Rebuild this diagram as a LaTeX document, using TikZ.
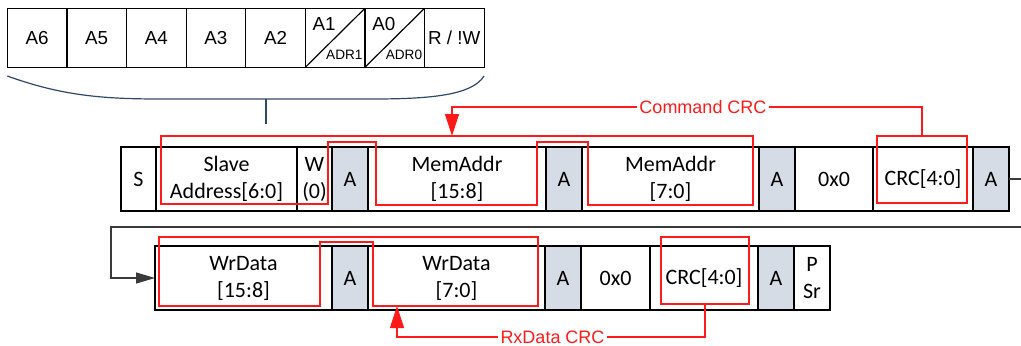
\documentclass[tikz,border=0pt]{standalone}
\usepackage{fontspec}
\setmainfont{Carlito}
\newfontfamily\arialfont{Liberation Sans}
\usepackage{tikz}
\usetikzlibrary{arrows.meta,positioning,calc}
\definecolor{ackfill}{HTML}{D6DCE5}
\definecolor{crcred}{HTML}{FF1A1A}
\definecolor{bracecol}{HTML}{2F4869}
\definecolor{flowcol}{HTML}{3A3A3A}
\tikzset{
	bit/.style={draw, minimum height=32pt, outer sep=0pt, inner sep=0pt,
		align=center, line width=.6pt,
		font=\fontsize{11}{13.5}\selectfont},
	ack/.style={bit, fill=ackfill, minimum width=18pt},
	addr/.style={draw, minimum width=29.8pt, minimum height=29.5pt, outer sep=0pt,
		inner sep=0pt, line width=.6pt, font=\arialfont\fontsize{9.4}{10}\selectfont},
	addr hi/.style={anchor=north west, inner xsep=3.5pt, inner ysep=4.3pt,
		font=\arialfont\fontsize{9.4}{10}\selectfont},
	addr lo/.style={anchor=south east, inner xsep=1pt, inner ysep=3.5pt,
		font=\arialfont\fontsize{6.8}{7}\selectfont},
	crcline/.style={draw=crcred, line width=.55pt},
	crcbox/.style={crcline, minimum width=45pt, minimum height=33.5pt, outer sep=0pt, inner sep=0pt},
	crclabel/.style={text=crcred, inner xsep=1pt, inner ysep=0pt,
		font=\arialfont\fontsize{9}{10}\selectfont},
	crcarrow/.style={crcline, -{Triangle[length=11pt,width=7pt]}},
	flow/.style={draw=flowcol, line width=.6pt, -{Triangle[length=9.5pt,width=5.5pt]}},
	node distance=0pt
}

\begin{document}
\begin{tikzpicture}[x=.5pt, y=-.5pt]
	\useasboundingbox (0,0) rectangle (1021,345);
	% address byte
	\node[addr] (b7) at (37.1,37.8) {A6};
	\node[addr, right=of b7] (b6) {A5};
	\node[addr, right=of b6] (b5) {A4};
	\node[addr, right=of b5] (b4) {A3};
	\node[addr, right=of b4] (b3) {A2};
	\node[addr, right=of b3] (b2) {};
	\node[addr, right=of b2] (b1) {};
	\node[addr, right=of b1] (b0) {R / !W};
	\foreach \b/\hi/\lo in {b2/A1/ADR1, b1/A0/ADR0} {
		\draw[line width=.6pt] (\b.south west) -- (\b.north east);
		\node[addr hi] at (\b.north west) {\hi};
		\node[addr lo] at (\b.south east) {\lo};
	}
	\draw[bracecol, line width=.6pt] (b7.south west |- 0,76) .. controls (60,95) and (100,99) .. (160,99)
		-- (372,99) .. controls (432,99) and (472,95) .. (b0.south east |- 0,76);
	\draw[bracecol, line width=.8pt] (266,99) -- (266,124);
	% write command
	\node[bit, minimum width=17.5pt] (r1s) at (138.5,179) {S};
	\node[bit, minimum width=70.5pt, right=of r1s] (r1slave) {Slave\\Address[6:0]};
	\node[bit, minimum width=17.5pt, right=of r1slave] (r1w) {W\\(0)};
	\node[ack, right=of r1w] (r1a1) {A};
	\node[bit, minimum width=89pt, right=of r1a1] (r1mh) {MemAddr\\{[15:8]}};
	\node[ack, right=of r1mh] (r1a2) {A};
	\node[bit, minimum width=88.5pt, right=of r1a2] (r1ml) {MemAddr\\{[7:0]}};
	\node[ack, right=of r1ml] (r1a3) {A};
	\node[bit, minimum width=39pt, right=of r1a3] (r1pad) {0x0};
	\node[bit, minimum width=50pt, right=of r1pad] (r1crc) {CRC[4:0]};
	\node[ack, right=of r1crc] (r1a4) {A};
	% write data
	\node[bit, minimum width=88.5pt] (r2dh) at (243.5,278) {WrData\\{[15:8]}};
	\node[ack, right=of r2dh] (r2a1) {A};
	\node[bit, minimum width=88.5pt, right=of r2a1] (r2dl) {WrData\\{[7:0]}};
	\node[ack, right=of r2dl] (r2a2) {A};
	\node[bit, minimum width=34.5pt, right=of r2a2] (r2pad) {0x0};
	\node[bit, minimum width=54pt, right=of r2pad] (r2crc) {CRC[4:0]};
	\node[ack, right=of r2crc] (r2a3) {A};
	\node[bit, minimum width=18pt, right=of r2a3] (r2stop) {P\\Sr};
	\coordinate (wrapA) at (1030,227);
	\coordinate (wrapB) at (111,227);
	\draw[flow] (r1a4.east) -| (wrapA) -- (wrapB) |- (r2dh.west);
	% crc coverage
	\draw[crcline] (161,136) -- (753,136) -- (753,205) -- (588,205) -- (588,142) -- (537,142)
		-- (537,205) -- (376,205) -- (376,142) -- (328,142) -- (328,204) -- (161,204) -- cycle;
	\draw[crcline] (159,237) -- (538,237) -- (538,306) -- (373,306) -- (373,242) -- (320,242)
		-- (320,306) -- (159,306) -- cycle;
	\node[crcbox] (crcmark1) at (922,169.5) {};
	\node[crcbox, minimum width=44pt] (crcmark2) at (705,270.5) {};
	\node[crclabel] (cmdlbl) at (703,107) {Command CRC};
	\node[crclabel] (rxlbl) at (552.5,337) {RxData CRC};
	\coordinate (cmdtip) at (452,136);
	\coordinate (rxtip) at (397,306);
	\draw[crcline] (cmdlbl.east) -| (crcmark1.north);
	\draw[crcarrow] (cmdlbl.west) -| (cmdtip);
	\draw[crcline] (crcmark2.south) |- (rxlbl.east);
	\draw[crcarrow] (rxlbl.west) -| (rxtip);
\end{tikzpicture}
\end{document}
